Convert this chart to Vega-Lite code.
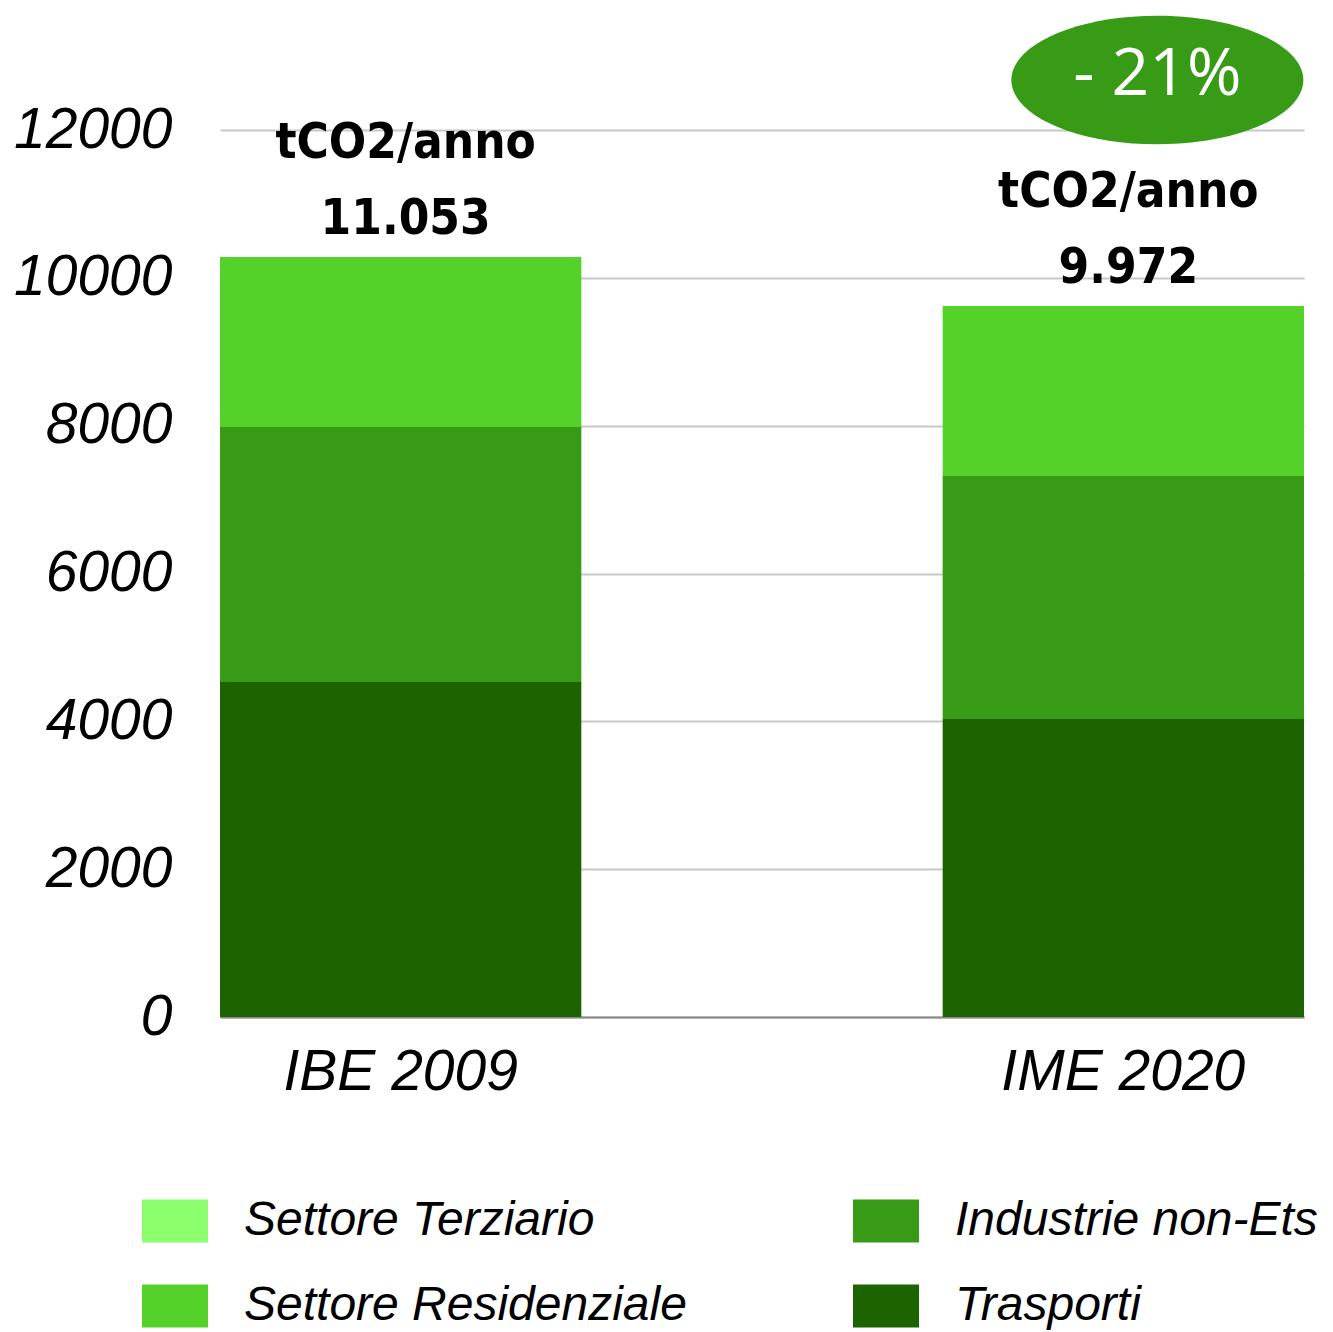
{
  "$schema": "https://vega.github.io/schema/vega-lite/v6.json",
  "width": 1084,
  "height": 887,
  "autosize": "none",
  "padding": {"left": 220, "top": 130, "right": 29, "bottom": 315},
  "background": "white",
  "datasets": {
    "emissioni": [
      {"Inventario": "IBE 2009", "Settore": "Trasporti", "tCO2": 4532},
      {"Inventario": "IBE 2009", "Settore": "Industrie non-Ets", "tCO2": 3450},
      {"Inventario": "IBE 2009", "Settore": "Settore Residenziale", "tCO2": 2300},
      {"Inventario": "IBE 2009", "Settore": "Settore Terziario", "tCO2": 0},
      {"Inventario": "IME 2020", "Settore": "Trasporti", "tCO2": 4032},
      {"Inventario": "IME 2020", "Settore": "Industrie non-Ets", "tCO2": 3287},
      {"Inventario": "IME 2020", "Settore": "Settore Residenziale", "tCO2": 2300},
      {"Inventario": "IME 2020", "Settore": "Settore Terziario", "tCO2": 0}
    ],
    "etichette": [
      {"Inventario": "IBE 2009", "testo": "11.053"},
      {"Inventario": "IME 2020", "testo": "9.972"}
    ],
    "riduzione": [
      {"Inventario": "IME 2020", "testo": "- 21%"}
    ]
  },
  "data": {"name": "emissioni"},
  "config": {
    "view": {"stroke": null},
    "axis": {"labelColor": "black"}
  },
  "layer": [
    {
      "transform": [
        {"calculate": "indexof(['Trasporti','Industrie non-Ets','Settore Residenziale','Settore Terziario'], datum.Settore)", "as": "ordine"}
      ],
      "mark": {"type": "bar"},
      "encoding": {
        "x": {
          "field": "Inventario", "type": "nominal",
          "scale": {"paddingInner": 0.5, "paddingOuter": 0},
          "axis": {
            "title": null, "labelAngle": 0, "ticks": false,
            "domain": true, "domainColor": "#888888", "domainWidth": 2,
            "labelFont": "Liberation Sans", "labelFontStyle": "italic",
            "labelFontSize": 57, "labelPadding": 27, "labelLimit": 600
          }
        },
        "y": {
          "aggregate": "sum", "field": "tCO2", "type": "quantitative",
          "scale": {"domain": [0, 12000], "nice": false},
          "axis": {
            "title": null, "values": [0, 2000, 4000, 6000, 8000, 10000, 12000],
            "format": "d",
            "ticks": false, "domain": false, "grid": true,
            "gridColor": "#c8c8c8", "gridWidth": 2,
            "labelFont": "Liberation Sans", "labelFontStyle": "italic",
            "labelFontSize": 57, "labelPadding": 48, "labelLimit": 300
          }
        },
        "color": {
          "field": "Settore", "type": "nominal",
          "scale": {
            "domain": ["Settore Terziario", "Industrie non-Ets", "Settore Residenziale", "Trasporti"],
            "range": ["#8cff6e", "#379b16", "#54d22a", "#1b6400"]
          },
          "legend": {
            "title": null, "orient": "none", "legendX": -78, "legendY": 1058,
            "columns": 2, "direction": "horizontal",
            "columnPadding": 166, "rowPadding": 28,
            "symbolType": "M-1,-0.65H1V0.65H-1Z", "symbolSize": 4356,
            "symbolStrokeWidth": 0, "symbolOpacity": 1,
            "labelFont": "Liberation Sans", "labelFontStyle": "italic",
            "labelFontSize": 48, "labelOffset": 36, "labelLimit": 700,
            "labelColor": "black"
          }
        },
        "order": {"field": "ordine", "type": "quantitative"}
      }
    },
    {
      "transform": [
        {"aggregate": [{"op": "sum", "field": "tCO2", "as": "totale"}], "groupby": ["Inventario"]},
        {"lookup": "Inventario", "from": {"data": {"name": "etichette"}, "key": "Inventario", "fields": ["testo"]}}
      ],
      "mark": {"type": "text", "font": "DejaVu Sans Condensed", "fontWeight": "bold", "fontSize": 49, "baseline": "alphabetic", "dy": -23, "dx": 5, "color": "black"},
      "encoding": {
        "x": {"field": "Inventario", "type": "nominal"},
        "y": {"field": "totale", "type": "quantitative"},
        "text": {"field": "testo"}
      }
    },
    {
      "transform": [
        {"aggregate": [{"op": "sum", "field": "tCO2", "as": "totale"}], "groupby": ["Inventario"]}
      ],
      "mark": {"type": "text", "font": "DejaVu Sans Condensed", "fontWeight": "bold", "fontSize": 49, "baseline": "alphabetic", "dy": -99, "dx": 5, "color": "black"},
      "encoding": {
        "x": {"field": "Inventario", "type": "nominal"},
        "y": {"field": "totale", "type": "quantitative"},
        "text": {"value": "tCO2/anno"}
      }
    },
    {
      "data": {"name": "riduzione"},
      "mark": {"type": "point", "shape": "M-1,0A1,0.44,0,1,0,1,0A1,0.44,0,1,0,-1,0Z", "size": 85264, "filled": true, "color": "#379b16", "opacity": 1, "xOffset": 34, "yOffset": -50},
      "encoding": {
        "x": {"field": "Inventario", "type": "nominal"},
        "y": {"datum": 12000, "type": "quantitative"}
      }
    },
    {
      "data": {"name": "riduzione"},
      "mark": {"type": "text", "font": "Open Sans", "fontSize": 66, "color": "white", "baseline": "middle", "xOffset": 34, "yOffset": -55},
      "encoding": {
        "x": {"field": "Inventario", "type": "nominal"},
        "y": {"datum": 12000, "type": "quantitative"},
        "text": {"field": "testo"}
      }
    }
  ]
}
